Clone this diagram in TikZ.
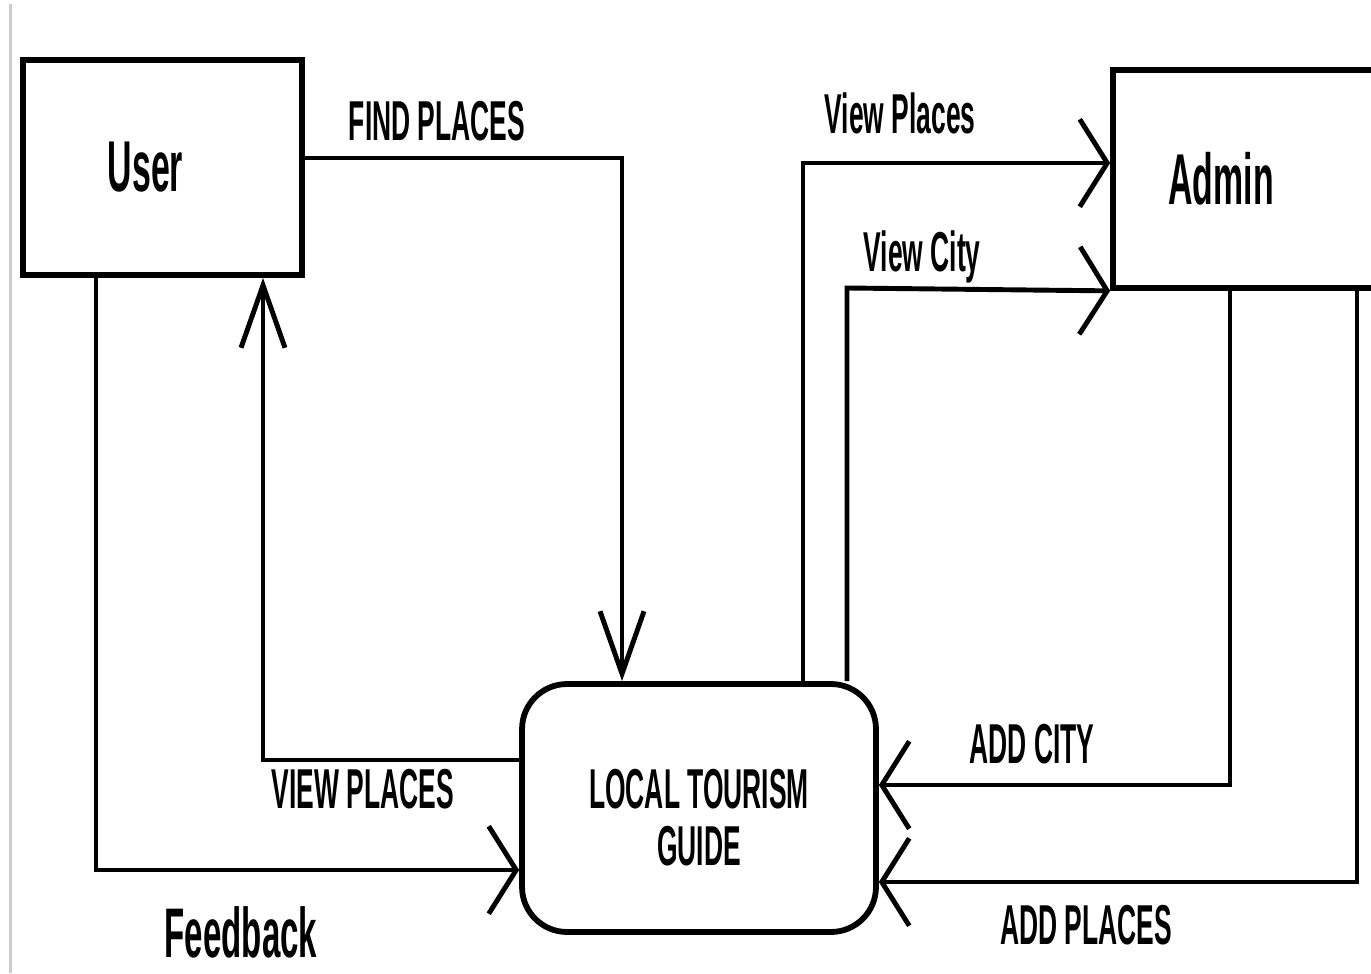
\documentclass[tikz,border=0pt]{standalone}
\usepackage{fontspec}
\usepackage{tikz}
\usetikzlibrary{arrows.meta}
\newfontfamily\dfdfont[FakeStretch=0.47]{Liberation Sans}
\tikzset{
  dfd entity/.style={draw,line width=3.3pt,minimum width=#1,inner sep=0pt},
  dfd process/.style={draw,line width=3.3pt,rounded corners=0.9cm,
    minimum width=7.08cm,minimum height=4.96cm},
  dfd name/.style={font=\dfdfont\bfseries\fontsize{41}{41}\selectfont,inner sep=0pt},
  dfd label/.style={font=\dfdfont\bfseries\fontsize{32}{32}\selectfont,inner sep=0pt},
  dfd flow/.style={line width=2.8pt,line join=miter},
  dfd vtip/.style={-{Straight Barb[length=1.25cm,width=0.88cm,line width=2.8pt]}},
  dfd htip/.style={-{Straight Barb[length=0.55cm,width=1.75cm,line width=2.8pt]}}
}
\begin{document}
\begin{tikzpicture}[x=0.02cm,y=-0.02cm]
  \clip (0,0) rectangle (1371,973);
  \draw[black!20,line width=0.06cm] (10.5,4)--(10.5,973);
  % external entities and the process
  \node[dfd entity=5.58cm,minimum height=4.3cm,
    label={[dfd name,xshift=-0.34cm]center:User}] (user) at (162.5,167.5) {};
  \node[dfd entity=5.44cm,minimum height=4.36cm,
    label={[dfd name,xshift=-0.56cm]center:Admin}] (admin) at (1249,179) {};
  \node[dfd process,label={[dfd label,align=center,yshift=-0.2cm]center:LOCAL TOURISM\\[0.02cm]GUIDE}]
    (guide) at (699,808) {};
  % bends of the flows
  \coordinate (findbend) at (622,158);
  \coordinate (viewbend) at (263,760);
  \coordinate (fbbend) at (96,870);
  \coordinate (vpbend) at (803,163);
  \coordinate (vcbend) at (847,288);
  \coordinate (acbend) at (1230,785);
  \coordinate (apbend) at (1357,882);
  % data flows
  \draw[dfd flow,dfd vtip] (user.east |- findbend)--(findbend)--(findbend |- guide.north);
  \draw[dfd flow,dfd vtip] (guide.west |- viewbend)--(viewbend)--(viewbend |- user.south);
  \draw[dfd flow,dfd htip] (fbbend |- user.south)--(fbbend)--(fbbend -| guide.west);
  \draw[dfd flow,dfd htip] (vpbend |- guide.north)--(vpbend)--(vpbend -| admin.west);
  \draw[dfd flow,dfd htip] (vcbend |- guide.north)--(vcbend)--(admin.south west);
  \draw[dfd flow,dfd htip] (acbend |- admin.south)--(acbend)--(acbend -| guide.east);
  \draw[dfd flow,dfd htip] (apbend |- admin.south)--(apbend)--(apbend -| guide.east);
  % flow labels
  \node[dfd label] (findlbl) at (437,121) {FIND PLACES};
  \node[dfd label] (viewlbl) at (363,789) {VIEW PLACES};
  \node[dfd label,font=\dfdfont\bfseries\fontsize{40}{40}\selectfont] (fblbl) at (241,932) {Feedback};
  \node[dfd label] (vplbl) at (900,113) {View Places};
  \node[dfd label] (vclbl) at (922,257) {View City};
  \node[dfd label] (aclbl) at (1032,744) {ADD CITY};
  \node[dfd label] (aplbl) at (1086,925) {ADD PLACES};
\end{tikzpicture}
\end{document}
